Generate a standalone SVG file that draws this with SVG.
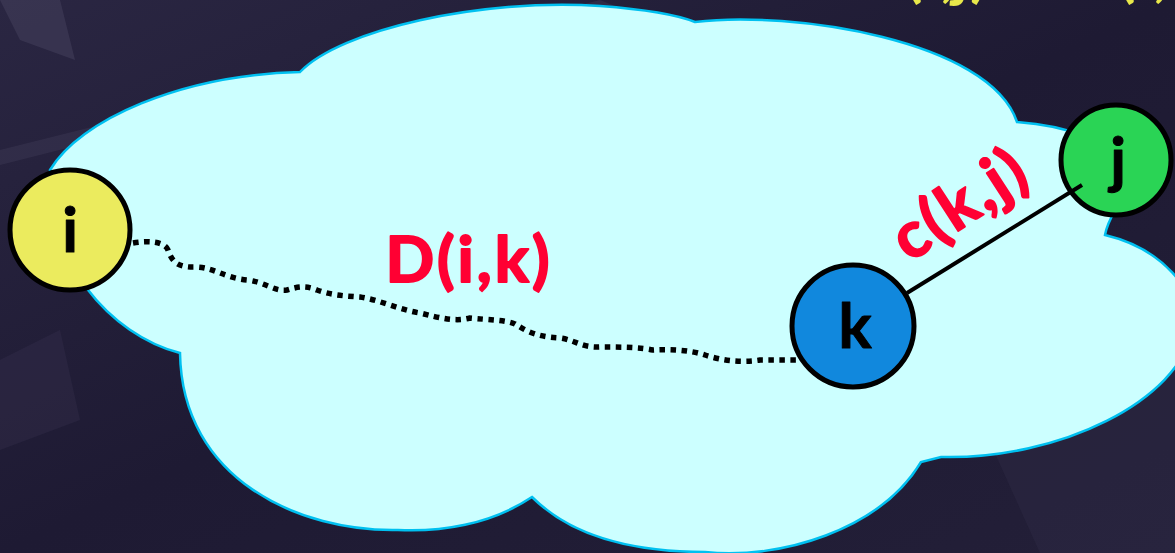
<svg xmlns="http://www.w3.org/2000/svg" width="1175" height="553" viewBox="0 0 1175 553">
  <style>
    .node { stroke: #000; stroke-width: 5; }
    .nlabel { font-family: Lato, "DejaVu Sans", sans-serif; font-weight: bold; font-size: 62px; fill: #000; text-anchor: middle; stroke: #000; stroke-width: 1; stroke-linejoin: round; }
    .elabel { font-family: Lato, "DejaVu Sans", sans-serif; font-weight: bold; font-size: 64px; fill: #ff0033; stroke: #ff0033; stroke-width: 2; stroke-linejoin: round; text-anchor: middle; letter-spacing: 3px; }
    .top { font-family: Lato, "DejaVu Sans", sans-serif; font-weight: bold; font-size: 64px; fill: #e8e84a; }
  </style>
  <defs>
    <linearGradient id="bg" x1="0" y1="0" x2="1" y2="1">
      <stop offset="0" stop-color="#2a2642"/>
      <stop offset="0.5" stop-color="#1e1a33"/>
      <stop offset="1" stop-color="#231f38"/>
    </linearGradient>
  </defs>
  <rect width="1175" height="553" fill="url(#bg)"/>
  <g id="background-texture" opacity="0.3">
    <polygon points="0,0 60,0 75,60 20,40" fill="#5a5672"/>
    <polygon points="0,150 600,0 620,8 0,165" fill="#4a4662"/>
    <polygon points="0,360 60,330 80,420 0,450" fill="#3a3652"/>
    <polygon points="980,420 1175,330 1175,553 1040,553" fill="#35314c"/>
  </g>
  <path id="cloud" d="M300,72 C340,30 480,-2 600,6 C640,9 675,14 695,22 C790,10 990,40 1017,122 C1060,125 1120,140 1130,175 C1125,200 1108,215 1105,235 C1160,248 1200,290 1192,330 C1180,400 1060,460 941,457 L921,462 C880,530 780,560 705,552 C640,552 575,540 532,497 C490,525 440,532 398,530 C300,532 182,480 180,353 C110,335 45,260 50,170 C80,120 180,75 300,72 Z" fill="#ccffff" stroke="#00c0f0" stroke-width="2.5" stroke-linejoin="miter"/>
  <text class="top" x="859 905 925 940 952 970 990 1010 1050 1070 1118 1138 1153" y="-5">D(i,j) = D(i,k)+c(k,j)</text>
  <g id="node-i">
    <circle class="node" cx="70" cy="230" r="60" fill="#ebeb5e"/>
    <text class="nlabel" x="70" y="252">i</text>
  </g>
  <g id="node-k">
    <circle class="node" cx="853" cy="326" r="61" fill="#1188dd"/>
    <text class="nlabel" x="855" y="348">k</text>
  </g>
  <g id="node-j">
    <circle class="node" cx="1116" cy="160" r="55" fill="#2ad455"/>
    <text class="nlabel" x="1118" y="182">j</text>
  </g>
  <g id="connectors">
    <path id="edge-i-k" d="M133,243 C150,240 165,242 168,250 C172,262 178,268 197,267 C215,268 225,278 247,280 C265,282 275,292 287,290 C297,287 305,285 317,290 C330,295 345,296 360,297 C380,300 400,310 420,313 C440,318 455,322 470,318 C490,320 505,320 515,324 C525,330 535,337 560,338 C575,340 582,348 600,347 C620,347 640,347 653,350 C670,349 690,350 705,355 C720,360 740,363 760,360 L797,360" fill="none" stroke="#000" stroke-width="5.5" stroke-dasharray="5.5 5.5"/>
    <line id="edge-k-j" x1="907" y1="293" x2="1082" y2="185" stroke="#000" stroke-width="4"/>
    <text class="elabel" x="469" y="282">D(i,k)</text>
    <text class="elabel" x="972" y="222" transform="rotate(-33 972 222)">c(k,j)</text>
  </g>
</svg>
